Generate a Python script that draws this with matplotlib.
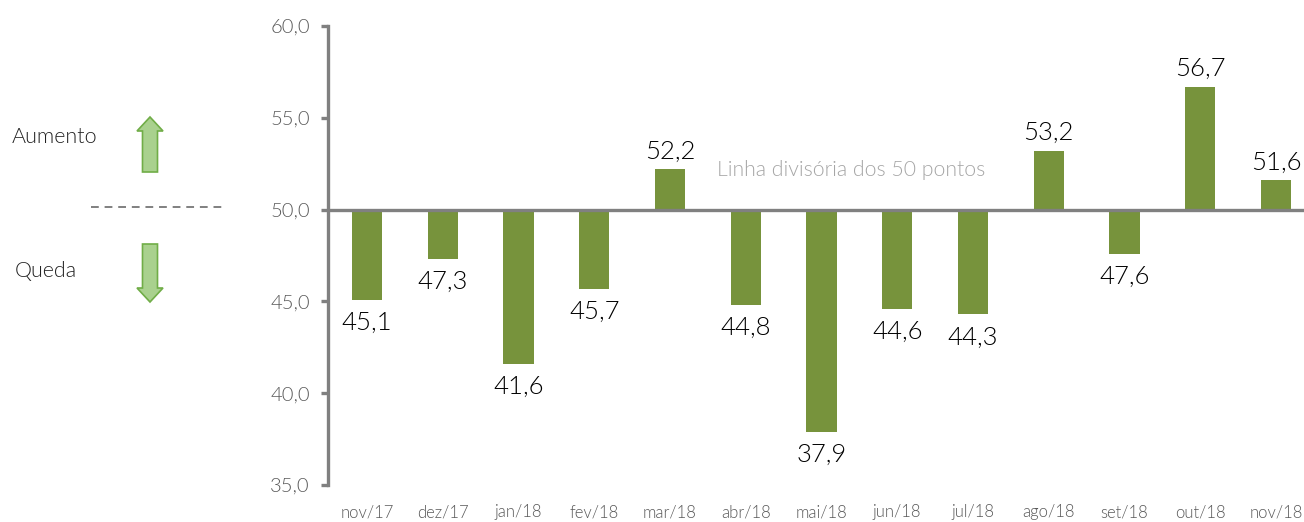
import matplotlib
matplotlib.use("Agg")
import matplotlib.pyplot as plt
from matplotlib.patches import FancyArrow
from matplotlib.lines import Line2D

categories = ["nov/17", "dez/17", "jan/18", "fev/18", "mar/18", "abr/18", "mai/18",
              "jun/18", "jul/18", "ago/18", "set/18", "out/18", "nov/18"]
values = [45.1, 47.3, 41.6, 45.7, 52.2, 44.8, 37.9, 44.6, 44.3, 53.2, 47.6, 56.7, 51.6]
yticks = [35.0, 40.0, 45.0, 50.0, 55.0, 60.0]
baseline = 50.0

plt.rcParams['font.family'] = ['Lato', 'DejaVu Sans']
LIGHT = 300

W, H = 1304, 522
fig = plt.figure(figsize=(W / 100, H / 100), dpi=100)
ax = fig.add_axes([328 / W, 1 - 485 / H, 1 - 328 / W, (485 - 26) / H])

bar_color = "#77933C"
x = list(range(len(categories)))
heights = [v - baseline for v in values]
ax.bar(x, heights, bottom=baseline, width=0.4, color=bar_color, zorder=2)

for xi, v in zip(x, values):
    lab = f"{v:.1f}".replace(".", ",")
    if v >= baseline:
        ax.annotate(lab, (xi, v), xytext=(0, 4), textcoords="offset points",
                    ha="center", va="bottom", fontsize=18.5, color="black",
                    fontweight=LIGHT)
    else:
        ax.annotate(lab, (xi, v), xytext=(0, -8), textcoords="offset points",
                    ha="center", va="top", fontsize=18.5, color="black",
                    fontweight=LIGHT)

ax.axhline(baseline, color="#808080", linewidth=2.4, zorder=3)
ax.text(6.39, 52.15, "Linha divisória dos 50 pontos", ha="center", va="center",
        fontsize=15.3, color="#A6A6A6", fontweight=LIGHT)

ax.set_xlim(-0.515, 12.37)
ax.set_ylim(35, 60)
ax.set_yticks(yticks)
ax.set_yticklabels([f"{t:.1f}".replace(".", ",") for t in yticks])
ax.set_xticks(x)
ax.set_xticklabels(categories)

for s in ["top", "right", "bottom"]:
    ax.spines[s].set_visible(False)
ax.spines["left"].set_color("#808080")
ax.spines["left"].set_linewidth(2.4)
ax.tick_params(axis="y", length=5, width=2.4, color="#808080", pad=8,
               labelsize=14.5, labelcolor="#595959")
ax.tick_params(axis="x", length=0, pad=14, labelsize=12, labelcolor="#595959")
for lbl in ax.get_xticklabels() + ax.get_yticklabels():
    lbl.set_fontweight(LIGHT)

# left-side legend panel in pixel coordinates
lax = fig.add_axes([0, 0, 1, 1], zorder=-1)
lax.set_xlim(0, W)
lax.set_ylim(H, 0)
lax.axis("off")
lax.text(12, 137, "Aumento", ha="left", va="center", fontsize=15.5, color="#222222",
         fontweight=LIGHT)
lax.text(15, 271, "Queda", ha="left", va="center", fontsize=15.5, color="#222222",
         fontweight=LIGHT)
lax.add_patch(FancyArrow(150, 172, 0, -55, width=15, head_width=26, head_length=14,
                         length_includes_head=True, facecolor="#A9D18E", edgecolor="#70AD47",
                         linewidth=1.2))
lax.add_patch(FancyArrow(150, 244, 0, 58, width=15, head_width=26, head_length=14,
                         length_includes_head=True, facecolor="#A9D18E", edgecolor="#70AD47",
                         linewidth=1.2))
lax.add_line(Line2D([91, 226], [207, 207], color="#808080", linewidth=1.4,
                    linestyle=(0, (4, 3))))

fig.savefig("out.png", dpi=100)
